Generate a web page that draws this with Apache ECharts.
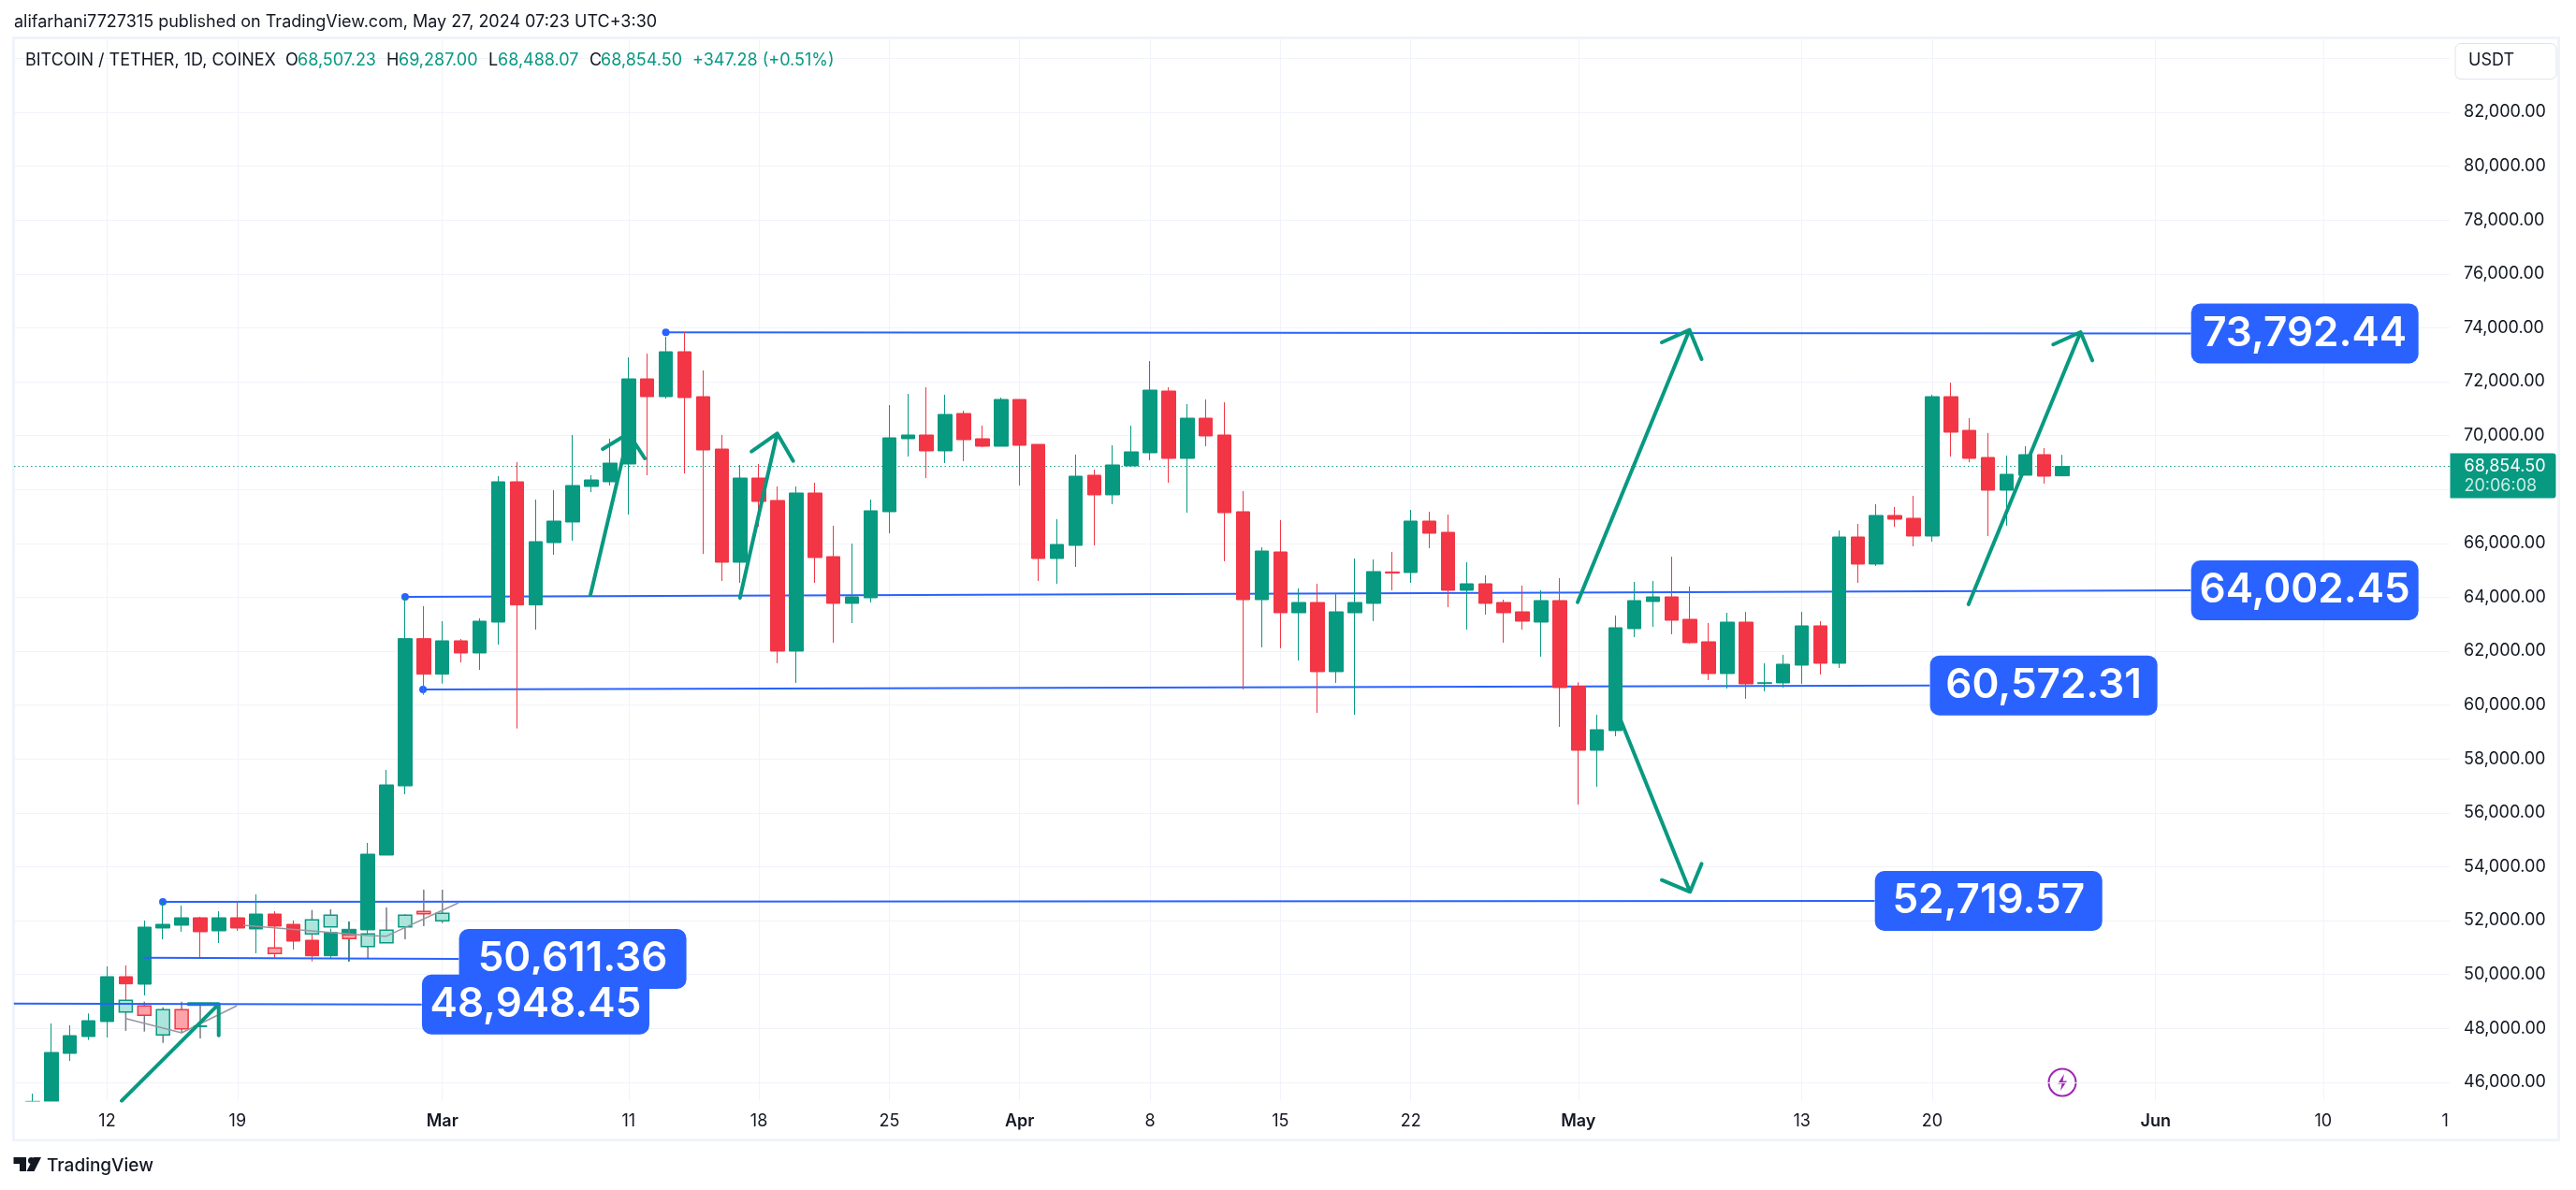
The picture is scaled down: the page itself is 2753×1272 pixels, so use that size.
<!DOCTYPE html>
<html><head><meta charset="utf-8">
<style>html,body{margin:0;padding:0;background:#fff}#c{width:2753px;height:1272px}</style>
<script src="https://cdn.jsdelivr.net/npm/echarts@6/dist/echarts.min.js"></script>
</head><body><div id="c"></div>
<script>
const GREEN='#089981', RED='#f23645', BLUE='#2962ff', GRID='#f0f3fa', TEXT='#131722', FONT='Inter';
// Daily candles from 8 Feb 2024; day numbers below count from 1 Mar 2024
const firstDay=-22;
const opens=[44340,45290,47072,47697,48253,49919,49641,51724,51829,52106,51620,52106,51690,52245,51863,51273,50694,51481,51655,54432,57000,62465,61145,62384,61932,63078,68286,63715,66029,66793,68112,68286,68946,72105,71445,73112,71445,69501,65300,68425,67592,62002,67869,65508,63773,63981,67175,69883,70022,69432,70820,69883,69605,71341,69675,65439,65925,68529,67800,68876,69362,71654,69154,70647,70022,67175,63911,65682,63425,63807,61238,63425,63773,64941,64918,66828,66411,64259,64501,63807,63460,63078,63877,60694,58322,59051,62835,63842,64015,63182,62349,61168,63078,60800,60821,61481,62939,61550,66237,65231,67036,66932,66272,71445,70195,69189,67973,68529,69293,68507.23];
const highs=[45580,48183,48114,48554,50301,50336,52002,52697,52558,52141,52349,52697,52974,52349,52002,51505,51700,51968,54884,57592,64000,63668,63113,62453,63217,68494,69015,67626,67973,70022,68529,69883,72904,73042,73667,73841,72417,70022,68911,68946,68112,68112,68251,66654,65994,67626,71133,71550,71793,71515,70925,70369,71411,71341,69675,66897,69293,68737,69640,70369,72765,71793,71168,71341,71237,67939,65856,66862,64328,64501,64154,65439,65404,65682,67244,67175,67071,65300,64814,63911,64432,64259,64710,60845,59641,63321,64571,64606,65508,64397,63043,63425,63460,61550,61863,63460,63113,66481,66723,67453,67349,67765,71515,71966,70647,70091,69258,69605,69536,69287];
const lows=[44200,45000,46794,47570,47662,47917,49225,51308,51586,50613,51169,51620,50787,50613,50926,50486,50602,50475,51000,54432,56689,60382,60798,61585,61307,62245,59131,62800,65578,66099,67904,68147,67071,68529,71376,68598,65612,64606,64536,66619,61551,60822,64536,62314,63043,63807,66376,69223,68425,68980,69050,69571,69605,68147,64606,64501,65127,65925,67453,68876,69085,68251,67140,69605,65335,60578,62141,62106,61655,59710,60822,59641,63113,64259,64536,65821,63634,62800,63356,62314,62800,61794,59190,56308,56967,58842,62523,62905,62627,62279,60926,60613,60231,60509,60648,60786,61134,61377,64536,65162,66619,65890,66064,69223,69015,66272,66654,68529,68217,68488.07];
const closes=[45290,47107,47732,48287,49919,49653,51759,51863,52106,51586,52106,51724,52245,51794,51238,50694,51562,51678,54467,57036,62465,61145,62384,61932,63113,68286,63715,66064,66828,68147,68355,68980,72105,71445,73112,71411,69466,65300,68425,67557,62002,67869,65474,63773,64015,67210,69918,70022,69432,70786,69848,69605,71341,69640,65439,65960,68494,67800,68911,69397,71688,69154,70647,69987,67140,63911,65717,63425,63807,61238,63460,63807,64953,64900,66828,66376,64259,64501,63773,63425,63113,63877,60648,58322,59085,62870,63876,64015,63147,62314,61168,63078,60786,60830,61516,62939,61550,66237,65231,67036,66897,66272,71445,70126,69154,67973,68564,69293,68494,68854.5];
// Ghost (bar-pattern) candles
const ghostDays=[-17,-16,-15,-14,-13,-9,-7,-6,-5,-4,-3,-2,-1,0];
const ghostOpens=[48611,48831,47755,48692,48070,50984,51505,51771,51470,51042,51180,51771,52338,51991];
const ghostCloses=[49039,48484,48692,47986,48100,50775,52025,52199,51331,51505,51643,52199,52257,52268];
const ghostLows=[47917,47882,47465,47830,47628,50775,51505,51771,50486,50602,51180,51308,51794,51910];
const ghostHighs=[49039,48993,48785,48993,48935,50984,52396,52419,51968,51505,52488,52234,53148,53148];
const ghostPaths=[[[-17,48367],[-14,47836],[-11.03,48843]],[[-10.69,51829],[-4,51447],[-3,51422],[0.87,52662]]];
// Drawn levels: [startDay,startPrice,endDay,endPrice,label,hasDot]
const levels=[
 [12,73835,93.88,73792,'73,792.44',true],
 [-2,64015,93.88,64258,'64,002.45',true],
 [-1.04,60578,79.86,60727,'60,572.31',true],
 [-15.01,52696,76.9,52730,'52,719.57',true],
 [-16,50624,0.87,50579,'50,611.36',false],
 [-23,48922,-1.12,48887,'48,948.45',false]
];
// Arrows: tail, tip, head, tip, head
const arrows=[
 [[-17.22,45312],[-12.01,48901],[-13.63,48901],[-12.01,48901],[-12.01,47741]],
 [[7.95,64084],[10,70081],[8.61,69501],[10,70081],[10.87,69154]],
 [[15.98,63980],[17.98,70081],[16.6,69407],[17.98,70081],[18.84,69060]],
 [[60.96,63817],[66.97,73921],[65.48,73459],[66.97,73921],[67.62,72834]],
 [[63.28,59432],[67,53068],[65.48,53505],[67,53068],[67.62,54109]],
 [[81.95,63737],[87.97,73841],[86.5,73379],[87.97,73841],[88.6,72789]]
];
const timeTicks=[-18,-11,0,10,17,24,31,38,45,52,61,73,80,92,101];
const timeTickLabels=['12','19','{m|Mar}','11','18','25','{m|Apr}','8','15','22','{m|May}','13','20','{m|Jun}','10'];
const clippedTick=107.55, clippedTickLabel='1';
const priceGrid=[46000,48000,50000,52000,54000,56000,58000,60000,62000,64000,66000,68000,70000,72000,74000,76000,78000,80000,82000,84000];
const priceLabels=[46000,48000,50000,52000,54000,56000,58000,60000,62000,64000,66000,70000,72000,74000,76000,78000,80000,82000];
const lastPrice=68854.5, countdown='20:06:08';
const xMin=-23,xMax=107.79,yMin=45311,yMax=84753;

const chart=echarts.init(document.getElementById('c'),null,{renderer:'canvas',width:2753,height:1272});
const candleData=opens.map((o,i)=>[firstDay+i,o,closes[i],lows[i],highs[i]]);
const ghostData=ghostDays.map((d,i)=>[d,ghostOpens[i],ghostCloses[i],ghostLows[i],ghostHighs[i]]);
const series=[];
series.push({type:'line',z:1,silent:true,symbol:'none',animation:false,
  data:[[xMin,lastPrice],[xMax,lastPrice]],lineStyle:{color:GREEN,width:1,type:[1.5,3]}});
levels.forEach((l,i)=>{
  series.push({type:'line',z:i===5?7:(i===4?6:1),silent:true,animation:false,showSymbol:true,clip:true,
    lineStyle:{color:BLUE,width:2},itemStyle:{color:BLUE},
    data:[
      {value:[l[0],l[1]],symbol:'circle',symbolSize:l[5]?8:1},
      {value:[l[2],l[3]],symbol:'circle',symbolSize:1,label:{show:true,position:'right',distance:0,
        formatter:'{b|'+l[4]+'}',
        rich:{b:{width:243,height:64,lineHeight:64,align:'center',verticalAlign:'middle',backgroundColor:BLUE,borderRadius:10,
          color:'#fff',fontFamily:FONT,fontWeight:600,fontSize:44}}}}
    ]});
});
series.push({type:'candlestick',z:2,silent:true,animation:false,barWidth:15,clip:true,data:candleData,
  itemStyle:{color:GREEN,color0:RED,borderColor:GREEN,borderColor0:RED,borderWidth:1}});
series.push({type:'custom',z:3,silent:true,animation:false,encode:{x:0,y:[1,2,3,4]},data:ghostData,
  renderItem(p,api){
    const d=api.value(0),o=api.value(1),c=api.value(2),lo=api.value(3),hi=api.value(4);
    const top=api.coord([d,hi]),bot=api.coord([d,lo]),a=api.coord([d,Math.max(o,c)]),b=api.coord([d,Math.min(o,c)]);
    const up=c>=o,w=14,h=Math.abs(b[1]-a[1]);
    const thin=h<2;
    return {type:'group',children:[
      {type:'line',shape:{x1:top[0],y1:top[1],x2:bot[0],y2:bot[1]},style:{stroke:'#787b86',lineWidth:1.5}},
      {type:'rect',shape:{x:a[0]-w/2,y:a[1],width:w,height:Math.max(h,1)},
       style:{fill:thin?(up?GREEN:RED):(up?'#ace5dc':'#fca3a9'),stroke:up?GREEN:RED,lineWidth:thin?1:1.5}}
    ]};
  }});
ghostPaths.forEach(g=>series.push({type:'line',z:3,silent:true,animation:false,symbol:'none',data:g,
  lineStyle:{color:'#9598a1',width:1.5}}));
arrows.forEach(a=>series.push({type:'line',z:4,silent:true,animation:false,symbol:'none',data:a,
  lineStyle:{color:GREEN,width:4,cap:'round',join:'round'}}));
series.push({type:'line',z:8,silent:true,animation:false,data:[{value:[xMax,lastPrice],symbol:'circle',symbolSize:1,
  itemStyle:{color:GREEN},label:{show:true,position:'right',distance:0,offset:[0,10],
    formatter:'{p|'+lastPrice.toLocaleString('en-US',{minimumFractionDigits:2})+'}\n{t|'+countdown+'}',
    backgroundColor:GREEN,borderRadius:[0,3,3,0],padding:[3,10,3,15],
    rich:{p:{color:'#fff',fontFamily:FONT,fontSize:18,lineHeight:21,width:88},t:{color:'#c8ebe4',fontFamily:FONT,fontSize:18,lineHeight:21,width:88}}}}]});

const tx=(x,y,text,fill,o)=>Object.assign({type:'text',x,y,z:101,style:Object.assign({text,fill,font:'18px Inter',textVerticalAlign:'middle'},o&&o.style||{})},o&&o.top||{});
const legend=[[27,'BITCOIN / TETHER, 1D, COINEX',TEXT],[305,'O',TEXT],[318,'68,507.23',GREEN],[413,'H',TEXT],[426,'69,287.00',GREEN],[522,'L',TEXT],[532,'68,488.07',GREEN],[630,'C',TEXT],[642,'68,854.50',GREEN],[740,'+347.28 (+0.51%)',GREEN]];
const graphic=[
  // hides the part of the off-scale candles that falls under the price pane
  {type:'rect',z:100,silent:true,shape:{x:16,y:1177.5,width:88,height:40},style:{fill:'#fff'}},
  {type:'rect',z:0,silent:true,shape:{x:14.5,y:40.5,width:2720,height:1178},style:{fill:'none',stroke:GRID,lineWidth:3}},
  tx(15,24,'alifarhani7727315 published on TradingView.com, May 27, 2024 07:23 UTC+3:30',TEXT),
  ...legend.map(l=>tx(l[0],65,l[1],l[2])),
  {type:'rect',shape:{x:2624,y:46.5,width:108,height:38,r:6},style:{fill:'#fff',stroke:'#e0e3eb',lineWidth:1}},
  tx(2638,65,'USDT',TEXT),
  {type:'circle',shape:{cx:2204,cy:1157,r:14.5},style:{fill:'#fff',stroke:'#9c27b0',lineWidth:2}},
  {type:'polygon',shape:{points:[[2206,1148],[2199,1158.5],[2203.5,1158.5],[2202,1166],[2209,1155.5],[2204.5,1155.5]]},style:{fill:'#9c27b0'}},
  {type:'polygon',shape:{points:[[14.5,1237],[28,1237],[28,1252],[21,1252],[21,1244],[14.5,1244]]},style:{fill:TEXT}},
  {type:'circle',shape:{cx:33.5,cy:1240.5,r:3.5},style:{fill:TEXT}},
  {type:'polygon',shape:{points:[[36,1237],[44,1237],[36.5,1252],[28.5,1252]]},style:{fill:TEXT}},
  tx(50,1246,'TradingView',TEXT,{style:{font:'500 19px Inter'}})
];
chart.setOption({
  animation:false,backgroundColor:'#fff',
  textStyle:{fontFamily:FONT},
  grid:{left:15,right:135,top:40.7,bottom:95.3,containLabel:false},
  xAxis:{type:'value',min:xMin,max:xMax,
    axisLine:{show:false},
    axisTick:{show:false,customValues:timeTicks},
    splitLine:{show:true,lineStyle:{color:GRID,width:1}},
    axisLabel:{customValues:timeTicks.concat([clippedTick]),color:TEXT,fontFamily:FONT,fontSize:18,margin:13,
      showMinLabel:true,showMaxLabel:true,
      formatter:v=>{const i=timeTicks.indexOf(v);return i>=0?timeTickLabels[i]:clippedTickLabel;},
      rich:{m:{fontFamily:FONT,fontSize:18,fontWeight:600,color:TEXT}}}},
  yAxis:{type:'value',position:'right',min:yMin,max:yMax,scale:true,
    axisLine:{show:false},
    axisTick:{show:false,customValues:priceGrid},
    splitLine:{show:true,lineStyle:{color:GRID,width:1}},
    axisLabel:{customValues:priceLabels,color:TEXT,fontFamily:FONT,fontSize:18,margin:15,
      formatter:v=>v.toLocaleString('en-US',{minimumFractionDigits:2,maximumFractionDigits:2})}},
  series,graphic
});
</script></body></html>
